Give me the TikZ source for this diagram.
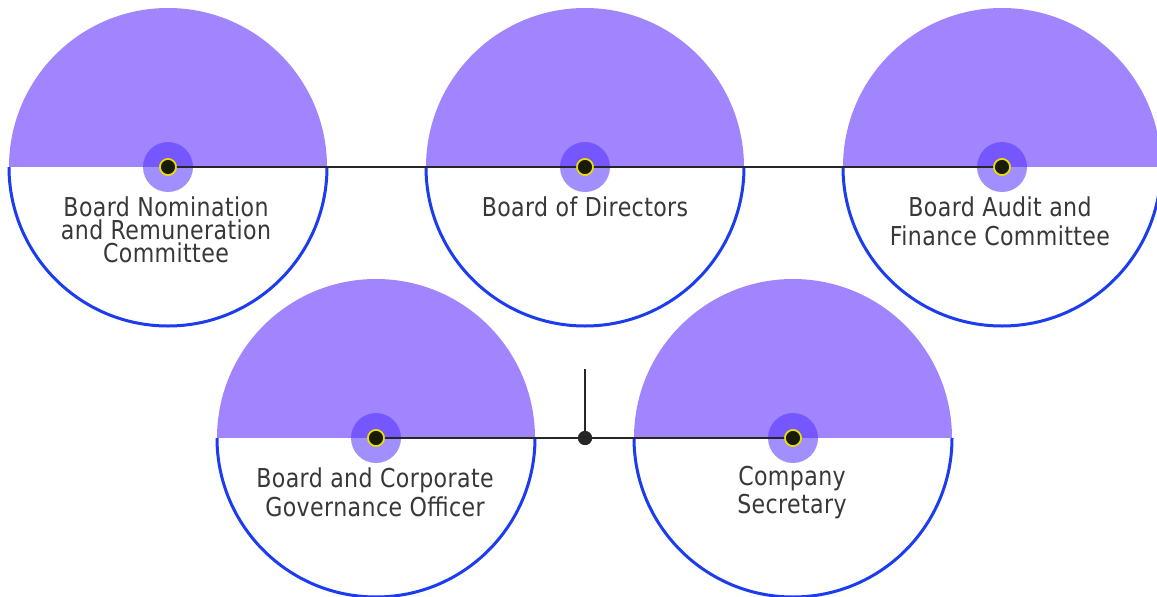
\documentclass[tikz,border=0pt]{standalone}
\usepackage{fontspec}
\setmainfont{DejaVu Sans}[FakeStretch=0.85,LetterSpace=1.5]
\definecolor{topc}{HTML}{A085FF}
\definecolor{rimc}{HTML}{1C3CF0}
\definecolor{haloc}{HTML}{5533FF}
\definecolor{txtc}{HTML}{383838}
\definecolor{dotc}{HTML}{1A1A05}
\definecolor{ringc}{HTML}{E8E000}
\tikzset{
  topfill/.style={fill=topc},
  bottomhalf/.style={fill=white,draw=rimc,line width=3pt},
  halo/.style={fill=haloc,fill opacity=0.55},
  dotn/.style={circle,fill=dotc,draw=ringc,line width=1.6pt,minimum size=16pt,inner sep=0pt},
  junc/.style={circle,fill=black!85,minimum size=14pt,inner sep=0pt},
  link/.style={draw=black!85,line width=1.2pt},
  lbl/.style={text=txtc,align=center,font=\fontsize{26}{23}\selectfont},
  lblb/.style={text=txtc,align=center,font=\fontsize{26}{28.5}\selectfont},
}
\begin{document}
\begin{tikzpicture}[x=1pt,y=-1pt]
\useasboundingbox (0,0) rectangle (1157,597);
\clip (0,0) rectangle (1157,597);
\foreach \cx/\cy in {168/167,585/167,1002/167,376/438,793/438}{
  \fill[topfill] (\cx-159,\cy) arc[start angle=180,end angle=0,radius=159pt] -- cycle;
  \path[bottomhalf] (\cx-159,\cy) arc[start angle=180,end angle=360,radius=159pt];
  \fill[halo] (\cx,\cy) circle[radius=25pt];
}
% centre dots
\node[dotn] (d1) at (168,167) {};
\node[dotn] (d2) at (585,167) {};
\node[dotn] (d3) at (1002,167) {};
\node[dotn] (d4) at (376,438) {};
\node[dotn] (d5) at (793,438) {};
\node[junc] (j) at (585,438) {};
\coordinate (top) at (585,369);
% connectors
\path[link] (d1.center) -- (d2.center) (d2.center) -- (d3.center);
\path[link] (d4.center) -- (j.center) -- (d5.center);
\path[link] (top) -- (j.center);
% redraw dots on top
\node[dotn] at (d1) {};
\node[dotn] at (d2) {};
\node[dotn] at (d3) {};
\node[dotn] at (d4) {};
\node[dotn] at (d5) {};
\node[junc] at (j) {};
% labels
\node[lbl] (t1) at (166,230) {Board Nomination\\and Remuneration\\Committee};
\node[lbl] (t2) at (585,207) {Board of Directors};
\node[lblb] (t3) at (1000,221.5) {Board Audit and\\Finance Committee};
\node[lblb] (t4) at (375,492.5) {Board and Corporate\\Governance Officer};
\node[lblb] (t5) at (792,492.5) {Company\\Secretary};
\end{tikzpicture}
\end{document}
